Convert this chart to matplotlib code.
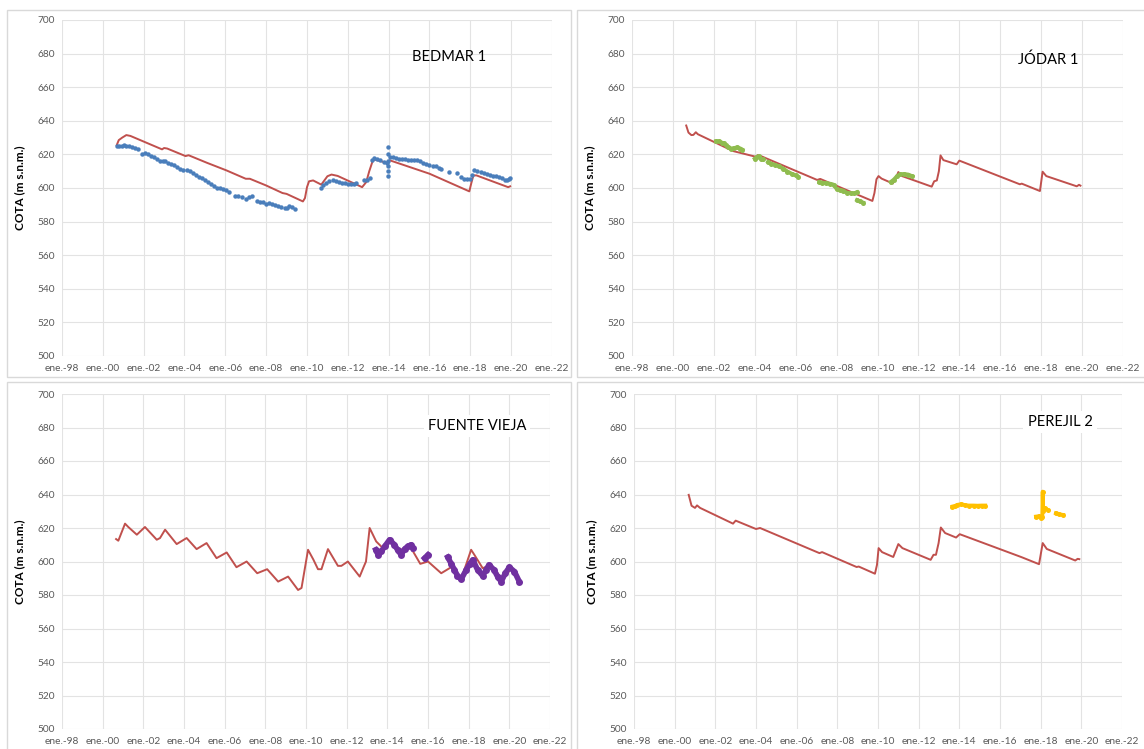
import numpy as np
import matplotlib
matplotlib.use("Agg")
import matplotlib.pyplot as plt
from matplotlib.patches import Rectangle

plt.rcParams['font.family'] = ['Lato', 'DejaVu Sans']

nan = np.nan

# ---- BEDMAR 1 ----
bedmar_sim_x = [2000.68, 2000.78, 2000.95, 2001.15, 2001.35, 2002.9, 2003.0, 2003.15, 2004.05, 2004.2,
                2005.1, 2006.05, 2007.0, 2007.2, 2008.0, 2008.8, 2009.0, 2009.8, 2009.9, 2010.0, 2010.1,
                2010.3, 2010.7, 2010.85, 2011.0, 2011.2, 2011.5, 2012.7, 2012.9, 2013.05, 2013.2, 2013.3,
                2013.9, 2014.05, 2016.0, 2017.95, 2018.05, 2018.15, 2018.3, 2019.85, 2019.95]
bedmar_sim_y = [625.5, 628.5, 630.0, 631.5, 631.0, 623.0, 623.8, 623.5, 619.0, 619.5,
                615.0, 610.5, 605.5, 605.5, 601.5, 597.0, 596.5, 592.0, 594.0, 600.5, 604.0,
                604.5, 602.0, 604.5, 607.0, 608.0, 607.2, 600.5, 603.5, 610.0, 615.5, 617.0,
                615.0, 616.5, 608.5, 598.0, 603.0, 607.5, 607.5, 600.5, 601.0]
bedmar_obs_x = [2000.68, 2000.8, 2000.92, 2001.05, 2001.15, 2001.3, 2001.45, 2001.6, 2001.7,
                2001.9, 2002.05, 2002.2, 2002.35, 2002.5, 2002.65, 2002.8, 2002.95, 2003.05, 2003.2,
                2003.35, 2003.5, 2003.65, 2003.8, 2003.95, 2004.1, 2004.25, 2004.4, 2004.55, 2004.7,
                2004.85, 2005.0, 2005.15, 2005.3, 2005.45, 2005.6, 2005.75, 2005.9, 2006.05, 2006.2,
                2006.45, 2006.6, 2006.8, 2007.0, 2007.15, 2007.3, 2007.55, 2007.7, 2007.85, 2008.0,
                2008.15, 2008.3, 2008.45, 2008.6, 2008.75, 2008.9, 2009.0, 2009.1, 2009.25, 2009.4,
                2010.7, 2010.8, 2010.95, 2011.1, 2011.25, 2011.4, 2011.55, 2011.7, 2011.85, 2012.0,
                2012.15, 2012.3, 2012.4, 2012.8, 2012.95, 2013.1,
                2013.2, 2013.3, 2013.45, 2013.6, 2013.75, 2013.9,
                2013.98, 2013.98, 2013.98, 2013.98, 2013.98, 2013.98,
                2014.05, 2014.2, 2014.35, 2014.5, 2014.65, 2014.8, 2014.95, 2015.1, 2015.25, 2015.4,
                2015.55, 2015.7, 2015.85, 2016.0, 2016.15, 2016.3, 2016.45, 2016.55,
                2016.97, 2017.33,
                2017.55, 2017.7, 2017.85, 2018.0, 2018.1, 2018.2, 2018.35, 2018.5, 2018.65, 2018.8,
                2018.95, 2019.1, 2019.25, 2019.4, 2019.55, 2019.7, 2019.8, 2019.9, 2019.95]
bedmar_obs_y = [625.0, 625.2, 624.8, 625.3, 625.2, 625.0, 624.5, 623.8, 623.0,
                620.5, 620.8, 620.2, 619.0, 618.2, 617.2, 616.2, 615.8, 616.0, 614.8,
                614.5, 613.5, 612.5, 611.5, 610.5, 610.8, 610.0, 609.2, 608.0, 606.8,
                605.8, 604.8, 603.5, 602.5, 601.2, 600.2, 599.8, 599.2, 598.8, 597.5,
                595.5, 595.0, 594.8, 593.5, 594.5, 595.0, 592.0, 591.5, 591.5, 590.5,
                590.8, 590.2, 590.0, 589.5, 588.8, 588.3, 588.0, 589.0, 588.5, 587.5,
                600.0, 601.5, 603.0, 604.3, 604.8, 604.0, 603.8, 603.2, 602.8, 602.5,
                602.5, 602.5, 602.8, 604.5, 605.0, 606.0,
                616.5, 617.8, 617.5, 616.5, 615.5, 615.0,
                607.0, 610.0, 613.0, 616.0, 620.0, 624.5,
                618.5, 618.5, 617.8, 617.5, 617.2, 617.0, 616.8, 616.6, 616.5, 616.5,
                615.8, 614.8, 614.2, 613.8, 613.2, 612.8, 612.2, 611.5,
                609.7, 608.8,
                606.5, 605.5, 605.2, 605.2, 608.0, 610.5, 610.0, 609.5, 609.0, 608.5,
                607.8, 607.2, 607.0, 606.8, 606.0, 604.8, 604.5, 605.2, 606.0]

# ---- JÓDAR 1 ----
jodar_sim_x = [2000.65, 2000.76, 2000.9, 2001.0, 2001.12, 2001.22, 2002.94, 2004.05, 2004.15, 2004.3,
               2007.05, 2007.2, 2007.3, 2009.75, 2009.85, 2009.95, 2010.05, 2010.2, 2010.5, 2010.75,
               2010.9, 2011.02, 2011.2, 2012.65, 2012.77, 2012.9, 2013.0, 2013.08, 2013.22, 2013.87,
               2014.0, 2016.96, 2017.05, 2017.94, 2018.07, 2018.25, 2019.74, 2019.85, 2019.92]
jodar_sim_y = [637.2, 633.0, 631.5, 631.6, 633.2, 632.0, 622.0, 618.6, 619.6, 619.0,
               604.8, 605.4, 604.9, 592.3, 597.0, 605.2, 607.1, 605.6, 604.0, 602.7,
               606.0, 609.5, 607.1, 600.8, 604.0, 604.5, 610.0, 619.4, 616.6, 614.1,
               616.3, 602.2, 602.6, 598.2, 609.7, 607.1, 601.0, 601.9, 601.4]
jodar_obs_x = [2002.1, 2002.25, 2002.4, 2002.5, 2002.6, 2002.7, 2002.85, 2003.0, 2003.15, 2003.3, 2003.4, nan,
               2004.0, 2004.1, 2004.2, 2004.3, 2004.4, nan,
               2004.65, 2004.8, 2005.0, 2005.2, 2005.4, 2005.6, 2005.8, 2006.0, 2006.1, nan,
               2007.15, 2007.3, 2007.5, 2007.7, 2007.85, 2008.0, 2008.15, 2008.3, 2008.5, 2008.7, 2008.85, 2009.0, nan,
               2009.0, 2009.15, 2009.3, nan,
               2010.65, 2010.8, 2010.95, 2011.1, 2011.3, 2011.5, 2011.7]
jodar_obs_y = [627.8, 627.8, 627.0, 626.5, 625.5, 624.5, 623.5, 623.8, 624.2, 623.5, 622.8, nan,
               617.5, 618.5, 619.0, 617.5, 617.0, nan,
               615.5, 614.5, 613.8, 612.8, 611.5, 609.8, 608.5, 607.5, 606.8, nan,
               603.5, 603.2, 602.8, 602.5, 602.0, 599.5, 598.8, 598.5, 597.2, 596.8, 596.8, 597.5, nan,
               592.8, 592.0, 591.3, nan,
               603.6, 605.0, 607.0, 608.2, 608.3, 608.0, 607.0]

# ---- FUENTE VIEJA ----
fuente_sim_x = [2000.66, 2000.77, 2001.1, 2001.26, 2001.68, 2002.08, 2002.66, 2002.82, 2003.07, 2003.64,
                2004.13, 2004.62, 2005.11, 2005.6, 2006.1, 2006.58, 2007.08, 2007.6, 2008.09, 2008.63,
                2009.12, 2009.61, 2009.78, 2010.1, 2010.36, 2010.59, 2010.76, 2011.08, 2011.57, 2011.74,
                2012.06, 2012.64, 2012.83, 2012.95, 2013.13, 2013.45, 2013.78, 2014.11, 2014.6, 2015.17,
                2015.62, 2016.0, 2016.65, 2017.14, 2017.63, 2018.12, 2018.28, 2018.69, 2019.1, 2019.68,
                2020.09, 2020.46]
fuente_sim_y = [613.4, 612.4, 622.6, 620.6, 616.0, 620.6, 613.0, 614.0, 619.0, 610.4,
                614.0, 607.4, 611.0, 602.0, 605.4, 596.6, 600.0, 593.0, 595.4, 588.0,
                591.0, 583.0, 584.2, 607.0, 601.2, 595.4, 595.4, 607.4, 597.4, 597.4,
                600.0, 591.0, 596.6, 600.0, 620.0, 612.0, 608.0, 613.0, 607.0, 608.0,
                598.6, 600.0, 593.0, 596.6, 589.4, 607.0, 604.0, 596.0, 598.0, 589.0,
                596.0, 588.6]
fuente_obs_x = [2013.43, 2013.55, 2013.7, 2013.9, 2014.11, 2014.35, 2014.5, 2014.68, 2014.85, 2015.0, 2015.17, 2015.25, nan,
                2015.83, 2016.0, nan,
                2016.97, 2017.15, 2017.3, 2017.45, 2017.63, 2017.88, 2018.05, 2018.2, 2018.44, 2018.69, 2018.85,
                2019.0, 2019.25, 2019.42, 2019.6, 2019.8, 2020.0, 2020.25, 2020.49]
fuente_obs_y = [607.0, 604.0, 606.0, 609.5, 613.0, 610.0, 607.0, 604.0, 607.5, 609.0, 610.0, 608.0, nan,
                602.0, 604.0, nan,
                602.6, 598.5, 595.0, 591.5, 589.4, 595.0, 598.5, 601.0, 595.0, 591.4, 595.0,
                598.0, 595.0, 591.0, 588.0, 593.0, 596.6, 594.0, 588.0]

# ---- PEREJIL 2 ----
perejil_sim_x = [2000.69, 2000.83, 2001.0, 2001.1, 2001.25, 2002.87, 2003.0, 2004.0, 2004.2, 2007.12,
                 2007.25, 2008.95, 2009.05, 2009.85, 2009.95, 2010.03, 2010.2, 2010.75, 2011.0, 2011.2,
                 2012.59, 2012.73, 2012.85, 2012.98, 2013.09, 2013.3, 2013.84, 2014.02, 2016.97, 2017.1,
                 2017.92, 2018.1, 2018.3, 2019.7, 2019.82, 2019.9]
perejil_sim_y = [639.8, 633.3, 632.0, 633.5, 632.0, 622.6, 624.4, 619.4, 620.0, 605.0,
                 605.6, 596.7, 597.0, 592.7, 598.0, 608.0, 605.6, 602.7, 610.4, 608.0,
                 601.0, 604.0, 604.0, 611.0, 620.3, 617.0, 614.3, 616.3, 603.0, 602.4,
                 598.4, 611.0, 607.5, 600.6, 601.6, 601.4]
perejil_obs_x = [2013.66, 2013.8, 2013.9, 2014.1, 2014.3, 2014.46, 2014.7, 2014.9, 2015.1, 2015.27, nan,
                 2017.77, 2017.9, 2018.0, 2018.08, 2018.1, 2018.12, 2018.2, 2018.35, nan,
                 2018.75, 2018.9, 2019.1]
perejil_obs_y = [632.8, 633.2, 633.8, 634.2, 633.6, 633.4, 633.4, 633.3, 633.4, 633.4, nan,
                 626.8, 627.0, 626.2, 626.5, 641.7, 630.0, 631.8, 630.8, nan,
                 628.8, 628.2, 627.8]

panels = [
    # name, pixel box (x0, y0, x1, y1), title position px, sim, obs, colour, style, white box
    ("BEDMAR 1", (62, 20, 552, 356), (449, 57), bedmar_sim_x, bedmar_sim_y,
     bedmar_obs_x, bedmar_obs_y, "#4a7ebb", "dots", False),
    ("JÓDAR 1", (632, 20, 1123, 356), (1048, 60), jodar_sim_x, jodar_sim_y,
     jodar_obs_x, jodar_obs_y, "#8fbc4f", "thick", False),
    ("FUENTE VIEJA", (62, 394, 550, 729), (477, 426), fuente_sim_x, fuente_sim_y,
     fuente_obs_x, fuente_obs_y, "#7030a0", "heavy", True),
    ("PEREJIL 2", (634, 394, 1122, 729), (1060, 422), perejil_sim_x, perejil_sim_y,
     perejil_obs_x, perejil_obs_y, "#ffc000", "thick", True),
]

W, H = 1144, 749
fig = plt.figure(figsize=(W / 100, H / 100), dpi=100)
fig.patch.set_facecolor("white")

# frames of the four tiled charts
for (x0, y0, x1, y1) in [(7, 10, 571, 377), (577, 10, 1150, 377), (7, 382, 571, 760), (577, 382, 1150, 760)]:
    fig.patches.append(Rectangle((x0 / W, 1 - y1 / H), (x1 - x0) / W, (y1 - y0) / H,
                                 transform=fig.transFigure, fill=False,
                                 edgecolor="#d9d9d9", lw=1.0, zorder=0))

xticks = list(range(1998, 2023, 2))
xlabels = ["ene.-%02d" % (y % 100) for y in xticks]

for name, box, tpos, sx, sy, ox, oy, col, style, boxed in panels:
    x0, y0, x1, y1 = box
    ax = fig.add_axes([x0 / W, 1 - y1 / H, (x1 - x0) / W, (y1 - y0) / H])
    ax.set_xlim(1998, 2022)
    ax.set_ylim(500, 700)
    ax.set_xticks(xticks)
    ax.set_xticklabels(xlabels)
    ax.set_yticks(range(500, 701, 20))
    ax.tick_params(length=0, labelsize=7.3, labelcolor="#595959")
    ax.tick_params(axis="x", pad=6)
    ax.tick_params(axis="y", pad=5)
    for s in ax.spines.values():
        s.set_visible(False)
    ax.grid(True, color="#e3e3e3", lw=0.8)
    ax.set_axisbelow(True)
    ax.set_ylabel("COTA (m s.n.m.)", fontsize=8.5, fontweight="bold", color="black")
    ax.yaxis.set_label_coords(-0.075, 0.5)

    ax.plot(sx, sy, color="#c0504d", lw=1.4, zorder=2)
    if style == "dots":
        ax.plot(ox, oy, "o", color=col, ms=3.2, mew=0, zorder=3)
    elif style == "heavy":
        ax.plot(ox, oy, "-o", color=col, lw=4.0, ms=5.0, mew=0, zorder=3)
    else:
        ax.plot(ox, oy, "-o", color=col, lw=2.8, ms=3.6, mew=0, zorder=3)

    bbox = dict(facecolor="white", edgecolor="none", pad=3) if boxed else None
    fig.text(tpos[0] / W, 1 - tpos[1] / H, name, fontsize=10.5, ha="center", va="center",
             color="black", bbox=bbox)

fig.savefig("out.png", dpi=100)
